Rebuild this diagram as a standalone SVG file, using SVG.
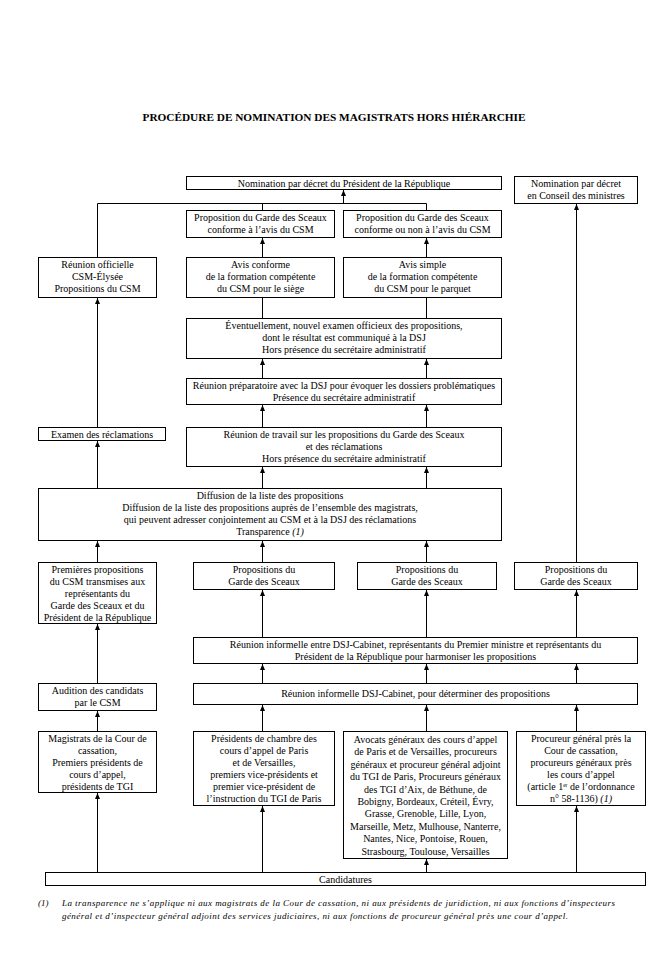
<svg xmlns="http://www.w3.org/2000/svg" width="668" height="979" viewBox="0 0 668 979">
<style>
.bg{fill:#fff}
.box{fill:#fff;stroke:#000;stroke-width:1}
.t{font-family:"Liberation Serif","Times New Roman",serif;font-size:10px;fill:#000;text-anchor:middle}
.title{font-family:"Liberation Serif","Times New Roman",serif;font-size:11px;font-weight:bold;fill:#000;text-anchor:middle}
.fn{font-family:"Liberation Serif","Times New Roman",serif;font-size:9px;font-style:italic;fill:#000}
.c{fill:none;stroke:#000;stroke-width:1}
.a{marker-end:url(#ah)}
</style>
<defs>
<marker id="ah" viewBox="0 0 6 6" refX="6" refY="3" markerWidth="6" markerHeight="6" markerUnits="userSpaceOnUse" orient="auto">
<path d="M0,0.5 L6,3 L0,5.5 z" fill="#000"/>
</marker>
</defs>
<rect class="bg" x="0" y="0" width="668" height="979"/>
<text class="title" x="334" y="121" textLength="383" lengthAdjust="spacingAndGlyphs">PROCÉDURE DE NOMINATION DES MAGISTRATS HORS HIÉRARCHIE</text>

<g id="connectors">
<polyline class="c" points="97.5,257 97.5,203.5 426.5,203.5 426.5,210"/>
<line class="c" x1="262.5" y1="203.5" x2="262.5" y2="210"/>
<line class="c a" x1="343.5" y1="203.5" x2="343.5" y2="190"/>
<line class="c a" x1="262.5" y1="257" x2="262.5" y2="238"/>
<line class="c a" x1="426.5" y1="257" x2="426.5" y2="238"/>
<line class="c" x1="262.5" y1="318" x2="262.5" y2="298"/>
<line class="c" x1="426.5" y1="318" x2="426.5" y2="298"/>
<line class="c a" x1="262.5" y1="378" x2="262.5" y2="359"/>
<line class="c a" x1="426.5" y1="378" x2="426.5" y2="359"/>
<line class="c a" x1="262.5" y1="427" x2="262.5" y2="405"/>
<line class="c a" x1="426.5" y1="427" x2="426.5" y2="405"/>
<line class="c a" x1="97.5" y1="427" x2="97.5" y2="298"/>
<line class="c a" x1="97.5" y1="488" x2="97.5" y2="441"/>
<line class="c a" x1="262.5" y1="488" x2="262.5" y2="467"/>
<line class="c a" x1="426.5" y1="488" x2="426.5" y2="467"/>
<line class="c a" x1="97.5" y1="562" x2="97.5" y2="541"/>
<line class="c a" x1="262.5" y1="562" x2="262.5" y2="541"/>
<line class="c a" x1="426.5" y1="562" x2="426.5" y2="541"/>
<line class="c a" x1="576.5" y1="562" x2="576.5" y2="204"/>
<line class="c a" x1="262.5" y1="637" x2="262.5" y2="590"/>
<line class="c a" x1="426.5" y1="637" x2="426.5" y2="590"/>
<line class="c a" x1="576.5" y1="637" x2="576.5" y2="590"/>
<line class="c a" x1="97.5" y1="683" x2="97.5" y2="624"/>
<line class="c a" x1="262.5" y1="683" x2="262.5" y2="664"/>
<line class="c a" x1="426.5" y1="683" x2="426.5" y2="664"/>
<line class="c a" x1="576.5" y1="683" x2="576.5" y2="664"/>
<line class="c a" x1="97.5" y1="731" x2="97.5" y2="711"/>
<line class="c a" x1="262.5" y1="731" x2="262.5" y2="705"/>
<line class="c a" x1="426.5" y1="731" x2="426.5" y2="705"/>
<line class="c a" x1="576.5" y1="731" x2="576.5" y2="705"/>
<line class="c a" x1="97.5" y1="872" x2="97.5" y2="793"/>
<line class="c a" x1="262.5" y1="872" x2="262.5" y2="806"/>
<line class="c a" x1="426.5" y1="872" x2="426.5" y2="859"/>
<line class="c a" x1="576.5" y1="872" x2="576.5" y2="806"/>
</g>

<g id="n-nomination-pr">
<rect class="box" x="186.5" y="176.5" width="315" height="13"/>
<text class="t" x="344" y="186.5">Nomination par décret du Président de la République</text>
</g>
<g id="n-nomination-conseil">
<rect class="box" x="514.5" y="176.5" width="123" height="27"/>
<text class="t" x="576" y="187">Nomination par décret</text>
<text class="t" x="576" y="199">en Conseil des ministres</text>
</g>
<g id="n-prop-conforme">
<rect class="box" x="186.5" y="210.5" width="148" height="27"/>
<text class="t" x="260.5" y="221">Proposition du Garde des Sceaux</text>
<text class="t" x="260.5" y="233">conforme à l’avis du CSM</text>
</g>
<g id="n-prop-non">
<rect class="box" x="343.5" y="210.5" width="158" height="27"/>
<text class="t" x="422.5" y="221">Proposition du Garde des Sceaux</text>
<text class="t" x="422.5" y="233">conforme ou non à l’avis du CSM</text>
</g>
<g id="n-reunion-officielle">
<rect class="box" x="38.5" y="257.5" width="118" height="40"/>
<text class="t" x="97.5" y="268">Réunion officielle</text>
<text class="t" x="97.5" y="280">CSM-Élysée</text>
<text class="t" x="97.5" y="292">Propositions du CSM</text>
</g>
<g id="n-avis-conforme">
<rect class="box" x="186.5" y="257.5" width="148" height="40"/>
<text class="t" x="260.5" y="268">Avis conforme</text>
<text class="t" x="260.5" y="280">de la formation compétente</text>
<text class="t" x="260.5" y="292">du CSM pour le siège</text>
</g>
<g id="n-avis-simple">
<rect class="box" x="343.5" y="257.5" width="158" height="40"/>
<text class="t" x="422.5" y="268">Avis simple</text>
<text class="t" x="422.5" y="280">de la formation compétente</text>
<text class="t" x="422.5" y="292">du CSM pour le parquet</text>
</g>
<g id="n-eventuellement">
<rect class="box" x="186.5" y="318.5" width="315" height="40"/>
<text class="t" x="344" y="329">Éventuellement, nouvel examen officieux des propositions,</text>
<text class="t" x="344" y="341">dont le résultat est communiqué à la DSJ</text>
<text class="t" x="344" y="353">Hors présence du secrétaire administratif</text>
</g>
<g id="n-preparatoire">
<rect class="box" x="186.5" y="378.5" width="315" height="26"/>
<text class="t" x="344" y="389">Réunion préparatoire avec la DSJ pour évoquer les dossiers problématiques</text>
<text class="t" x="344" y="401">Présence du secrétaire administratif</text>
</g>
<g id="n-examen">
<rect class="box" x="38.5" y="427.5" width="127" height="13"/>
<text class="t" x="102" y="437.5">Examen des réclamations</text>
</g>
<g id="n-travail">
<rect class="box" x="186.5" y="427.5" width="315" height="39"/>
<text class="t" x="344" y="438">Réunion de travail sur les propositions du Garde des Sceaux</text>
<text class="t" x="344" y="450">et des réclamations</text>
<text class="t" x="344" y="462">Hors présence du secrétaire administratif</text>
</g>
<g id="n-diffusion">
<rect class="box" x="38.5" y="488.5" width="463" height="52"/>
<text class="t" x="270" y="499">Diffusion de la liste des propositions</text>
<text class="t" x="270" y="511">Diffusion de la liste des propositions auprès de l’ensemble des magistrats,</text>
<text class="t" x="270" y="523">qui peuvent adresser conjointement au CSM et à la DSJ des réclamations</text>
<text class="t" x="270" y="535">Transparence <tspan font-style="italic">(1)</tspan></text>
</g>
<g id="n-premieres">
<rect class="box" x="38.5" y="562.5" width="118" height="61"/>
<text class="t" x="97.5" y="573">Premières propositions</text>
<text class="t" x="97.5" y="585">du CSM transmises aux</text>
<text class="t" x="97.5" y="597">représentants du</text>
<text class="t" x="97.5" y="609">Garde des Sceaux et du</text>
<text class="t" x="97.5" y="621">Président de la République</text>
</g>
<g id="n-prop-gs-1">
<rect class="box" x="193.5" y="562.5" width="141" height="27"/>
<text class="t" x="264" y="573">Propositions du</text>
<text class="t" x="264" y="585">Garde des Sceaux</text>
</g>
<g id="n-prop-gs-2">
<rect class="box" x="357.5" y="562.5" width="139" height="27"/>
<text class="t" x="427" y="573">Propositions du</text>
<text class="t" x="427" y="585">Garde des Sceaux</text>
</g>
<g id="n-prop-gs-3">
<rect class="box" x="514.5" y="562.5" width="123" height="27"/>
<text class="t" x="576" y="573">Propositions du</text>
<text class="t" x="576" y="585">Garde des Sceaux</text>
</g>
<g id="n-reunion-harmoniser">
<rect class="box" x="193.5" y="637.5" width="444" height="26"/>
<text class="t" x="415.5" y="648">Réunion informelle entre DSJ-Cabinet, représentants du Premier ministre et représentants du</text>
<text class="t" x="415.5" y="660">Président de la République pour harmoniser les propositions</text>
</g>
<g id="n-audition">
<rect class="box" x="38.5" y="683.5" width="118" height="27"/>
<text class="t" x="97.5" y="694">Audition des candidats</text>
<text class="t" x="97.5" y="706">par le CSM</text>
</g>
<g id="n-reunion-determiner">
<rect class="box" x="193.5" y="683.5" width="444" height="21"/>
<text class="t" x="415.5" y="697">Réunion informelle DSJ-Cabinet, pour déterminer des propositions</text>
</g>
<g id="n-magistrats">
<rect class="box" x="38.5" y="731.5" width="118" height="61"/>
<text class="t" x="97.5" y="742">Magistrats de la Cour de</text>
<text class="t" x="97.5" y="754">cassation,</text>
<text class="t" x="97.5" y="766">Premiers présidents de</text>
<text class="t" x="97.5" y="778">cours d’appel,</text>
<text class="t" x="97.5" y="790">présidents de TGI</text>
</g>
<g id="n-presidents">
<rect class="box" x="193.5" y="731.5" width="141" height="74"/>
<text class="t" x="264" y="742">Présidents de chambre des</text>
<text class="t" x="264" y="754">cours d’appel de Paris</text>
<text class="t" x="264" y="766">et de Versailles,</text>
<text class="t" x="264" y="778">premiers vice-présidents et</text>
<text class="t" x="264" y="790">premier vice-président de</text>
<text class="t" x="264" y="802">l’instruction du TGI de Paris</text>
</g>
<g id="n-avocats">
<rect class="box" x="343.5" y="731.5" width="164" height="127"/>
<text class="t" x="425.5" y="743">Avocats généraux des cours d’appel</text>
<text class="t" x="425.5" y="755.4">de Paris et de Versailles, procureurs</text>
<text class="t" x="425.5" y="767.8">généraux et procureur général adjoint</text>
<text class="t" x="425.5" y="780.2">du TGI de Paris, Procureurs généraux</text>
<text class="t" x="425.5" y="792.6">des TGI d’Aix, de Béthune, de</text>
<text class="t" x="425.5" y="805">Bobigny, Bordeaux, Créteil, Évry,</text>
<text class="t" x="425.5" y="817.4">Grasse, Grenoble, Lille, Lyon,</text>
<text class="t" x="425.5" y="829.8">Marseille, Metz, Mulhouse, Nanterre,</text>
<text class="t" x="425.5" y="842.2">Nantes, Nice, Pontoise, Rouen,</text>
<text class="t" x="425.5" y="854.6">Strasbourg, Toulouse, Versailles</text>
</g>
<g id="n-procureur">
<rect class="box" x="516.5" y="731.5" width="129" height="74"/>
<text class="t" x="581" y="742">Procureur général près la</text>
<text class="t" x="581" y="754">Cour de cassation,</text>
<text class="t" x="581" y="766">procureurs généraux près</text>
<text class="t" x="581" y="778">les cours d’appel</text>
<text class="t" x="581" y="790">(article 1<tspan font-size="5.5" dy="-3">er</tspan><tspan dy="3"> de l’ordonnance</tspan></text>
<text class="t" x="581" y="802">n° 58-1136) <tspan font-style="italic">(1)</tspan></text>
</g>
<g id="n-candidatures">
<rect class="box" x="45.5" y="872.5" width="600" height="13"/>
<text class="t" x="345.5" y="882.5">Candidatures</text>
</g>

<g id="footnote">
<text class="fn" x="38" y="906">(1)</text>
<text class="fn" x="62" y="906" textLength="553" lengthAdjust="spacing">La transparence ne s’applique ni aux magistrats de la Cour de cassation, ni aux présidents de juridiction, ni aux fonctions d’inspecteurs</text>
<text class="fn" x="62" y="919" textLength="506" lengthAdjust="spacing">général et d’inspecteur général adjoint des services judiciaires, ni aux fonctions de procureur général près une cour d’appel.</text>
</g>
</svg>
